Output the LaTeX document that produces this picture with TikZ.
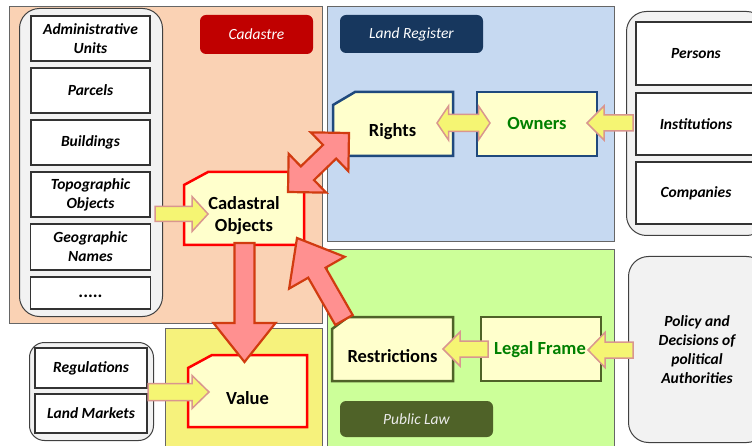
\documentclass[tikz,border=0pt]{standalone}
\usepackage{fontspec}
\setmainfont{Carlito}
\usetikzlibrary{calc}
\definecolor{peach}{HTML}{FAD2B4}
\definecolor{lrblue}{HTML}{C6D9F1}
\definecolor{plgreen}{HTML}{CCFF99}
\definecolor{valyel}{HTML}{F6F27C}
\definecolor{boxfill}{HTML}{FFFFCC}
\definecolor{grpgray}{HTML}{F2F2F2}
\definecolor{tagred}{HTML}{C00000}
\definecolor{tagnavy}{HTML}{17375E}
\definecolor{tagolive}{HTML}{4F6228}
\definecolor{navyline}{HTML}{1F497D}
\definecolor{oliveline}{HTML}{4F6228}
\definecolor{txtgreen}{HTML}{008000}
\definecolor{yarrfill}{HTML}{F5F573}
\definecolor{yarrline}{HTML}{D9968F}
\definecolor{rarrfill}{HTML}{FF9090}
\definecolor{rarrline}{HTML}{D13B10}
\newcommand{\itemfont}{\fontsize{15.5}{19}\selectfont\bfseries\itshape}
\newcommand{\objfont}{\fontsize{18.5}{22}\selectfont\bfseries}
\newcommand{\tagfont}{\fontsize{15.5}{19}\selectfont\itshape}
% single block arrow: style, start, tip, shaft half width, head half width, head length
\newcommand{\blockarrow}[6]{%
  \path ($(#3)!#6!(#2)$) coordinate (ba-h);
  \draw[#1] ($(#2)!#4!90:(#3)$) -- ($(ba-h)!#4!90:(#3)$) -- ($(ba-h)!#5!90:(#3)$) -- (#3)
    -- ($(ba-h)!#5!-90:(#3)$) -- ($(ba-h)!#4!-90:(#3)$) -- ($(#2)!#4!-90:(#3)$) -- cycle;}
% double block arrow: style, A, B, shaft half width, head half width, head length
\newcommand{\dblarrow}[6]{%
  \path ($(#2)!#6!(#3)$) coordinate (da-a) ($(#3)!#6!(#2)$) coordinate (da-b);
  \draw[#1] (#2) -- ($(da-a)!#5!90:(#3)$) -- ($(da-a)!#4!90:(#3)$) -- ($(da-b)!#4!-90:(#2)$)
    -- ($(da-b)!#5!-90:(#2)$) -- (#3) -- ($(da-b)!#5!90:(#2)$) -- ($(da-b)!#4!90:(#2)$)
    -- ($(da-a)!#4!-90:(#3)$) -- ($(da-a)!#5!-90:(#3)$) -- cycle;}
\tikzset{
  panel/.style={draw=black!60, line width=0.8pt, inner sep=0pt, anchor=north west},
  tag/.style={rounded corners=6pt, text=white, font=\tagfont, inner sep=0pt},
  grp/.style={draw=black!75, fill=grpgray, line width=1pt, rounded corners=20pt, inner sep=0pt, anchor=north west},
  item/.style={draw=black!80, fill=white, line width=1.2pt, font=\itemfont, align=center, inner sep=0pt},
  frame/.style={inner sep=0pt, outer sep=0pt, anchor=north west},
  cadline/.style={draw=red, fill=boxfill, line width=2.5pt},
  navyframe/.style={draw=navyline, fill=boxfill, line width=2.5pt},
  oliveframe/.style={draw=oliveline, fill=boxfill, line width=2.5pt},
  objtext/.style={font=\objfont, align=center, inner sep=0pt},
  yarrow/.style={fill=yarrfill, draw=yarrline, line width=1.5pt},
  rarrow/.style={fill=rarrfill, draw=rarrline, line width=2.2pt}
}
\begin{document}
\begin{tikzpicture}[x=1pt,y=-1pt]
\clip (0,0) rectangle (752,446);
\fill[white] (0,0) rectangle (752,446);
% panels
\node[panel, fill=peach, minimum width=313, minimum height=317] (cadpanel) at (9,6) {};
\node[panel, fill=lrblue, minimum width=287, minimum height=235] (lrpanel) at (327,6) {};
\node[panel, fill=plgreen, minimum width=287, minimum height=220] (plpanel) at (327,249) {};
\node[panel, fill=valyel, minimum width=157, minimum height=140] (valpanel) at (165,328) {};
% tags
\node[tag, fill=tagred, minimum width=113, minimum height=39] (cadtag) at (256.5,34.5) {Cadastre};
\node[tag, fill=tagnavy, minimum width=143, minimum height=38] (lrtag) at (411.5,34) {Land Register};
\node[tag, fill=tagolive, text=white!92!black, minimum width=153, minimum height=36] (pltag) at (416.5,419) {Public Law};
% left group
\node[grp, minimum width=143, minimum height=308] (grpL) at (19,8) {};
\node[item, minimum width=119, minimum height=45] (adm) at (90.5,38.5) {Administrative\\Units};
\node[item, minimum width=119, minimum height=45] (par) at (90.5,90.5) {Parcels};
\node[item, minimum width=119, minimum height=45] (bld) at (90.5,142.5) {Buildings};
\node[item, minimum width=119, minimum height=45] (top) at (90.5,194.5) {Topographic\\Objects};
\node[item, minimum width=120, minimum height=46] (geo) at (90.5,247) {Geographic\\Names};
\node[item, font=\fontsize{18}{20}\selectfont\bfseries, minimum width=120, minimum height=32] (dots) at (90.5,293) {\vphantom{Ay}.....};
% right group
\node[grp, minimum width=140, minimum height=224] (grpR) at (626,11) {};
\node[item, minimum width=120, minimum height=63] (per) at (696,53.5) {Persons};
\node[item, minimum width=120, minimum height=62] (ins) at (696,124) {Institutions};
\node[item, minimum width=120, minimum height=62] (com) at (696,193) {Companies};
% policy group
\node[grp, minimum width=138, minimum height=186] (grpP) at (628,256) {};
\node[font=\itemfont, align=center, inner sep=0pt] (pol) at (697,349.5) {Policy and\\Decisions of\\political\\Authorities};
% value group
\node[grp, rounded corners=15pt, minimum width=124, minimum height=98] (grpV) at (29,342) {};
\node[item, minimum width=112, minimum height=40] (reg) at (91,368) {Regulations};
\node[item, minimum width=112, minimum height=39] (lm) at (91,413.5) {Land Markets};
% object boxes
\node[frame, minimum width=120, minimum height=73] (cad) at (184,172) {};
\draw[cadline] ($(cad.north west)+(0,13)$) -- ($(cad.north west)+(24,0)$) -- (cad.north east) -- (cad.south east) -- (cad.south west) -- cycle;
\node[objtext] (cadt) at (244,216) {Cadastral\\Objects};
\node[frame, minimum width=120, minimum height=64] (rig) at (333,92) {};
\draw[navyframe] ($(rig.north west)+(0,13)$) -- ($(rig.north west)+(22,0)$) -- (rig.north east) -- (rig.south east) -- (rig.south west) -- cycle;
\node[objtext] (rigt) at (392.5,132) {Rights};
\node[frame, navyframe, minimum width=120, minimum height=64] (own) at (477,92) {};
\node[objtext, text=txtgreen] (ownt) at (537,124) {Owners};
\node[frame, minimum width=121, minimum height=64] (res) at (332,317) {};
\draw[oliveframe] ($(res.north west)+(0,12)$) -- ($(res.north west)+(16,0)$) -- (res.north east) -- (res.south east) -- (res.south west) -- cycle;
\node[objtext] (rest) at (392.5,356) {Restrictions};
\node[frame, oliveframe, minimum width=120, minimum height=64] (leg) at (481,317) {};
\node[objtext, text=txtgreen] (legt) at (540,350) {Legal Frame};
\node[frame, minimum width=119, minimum height=72] (val) at (188,355) {};
\draw[cadline] ($(val.north west)+(0,13)$) -- ($(val.north west)+(24,0)$) -- (val.north east) -- (val.south east) -- (val.south west) -- cycle;
\node[objtext] (valt) at (247.5,398) {Value};
% connector end points
\coordinate (y1s) at (155,214);   \coordinate (y1t) at (208,214);
\coordinate (y2s) at (148,392);   \coordinate (y2t) at (209,392);
\coordinate (ydA) at (437,123);   \coordinate (ydB) at (490,123);
\coordinate (y3s) at (633,123);   \coordinate (y3t) at (587,123);
\coordinate (y4s) at (633,350);   \coordinate (y4t) at (588,350);
\coordinate (y5s) at (488,349);   \coordinate (y5t) at (443,349);
\coordinate (rds) at (244.5,243); \coordinate (rdt) at (244.5,362);
\coordinate (rbA) at (288,192);   \coordinate (rbB) at (349,133);
\coordinate (rus) at (344,320);   \coordinate (rut) at (297,238);
% yellow arrows
\blockarrow{yarrow}{y1s}{y1t}{7.5pt}{17.5pt}{16pt}
\blockarrow{yarrow}{y2s}{y2t}{8.5pt}{16.5pt}{17pt}
\dblarrow{yarrow}{ydA}{ydB}{8.5pt}{17pt}{11.5pt}
\blockarrow{yarrow}{y3s}{y3t}{8pt}{17pt}{17pt}
\blockarrow{yarrow}{y4s}{y4t}{8pt}{17.5pt}{17pt}
\blockarrow{yarrow}{y5s}{y5t}{8pt}{17pt}{17pt}
% red arrows
\blockarrow{rarrow}{rds}{rdt}{10pt}{31pt}{39pt}
\dblarrow{rarrow}{rbA}{rbB}{9.5pt}{27pt}{27pt}
\blockarrow{rarrow}{rus}{rut}{10pt}{32pt}{40pt}
\end{tikzpicture}
\end{document}
